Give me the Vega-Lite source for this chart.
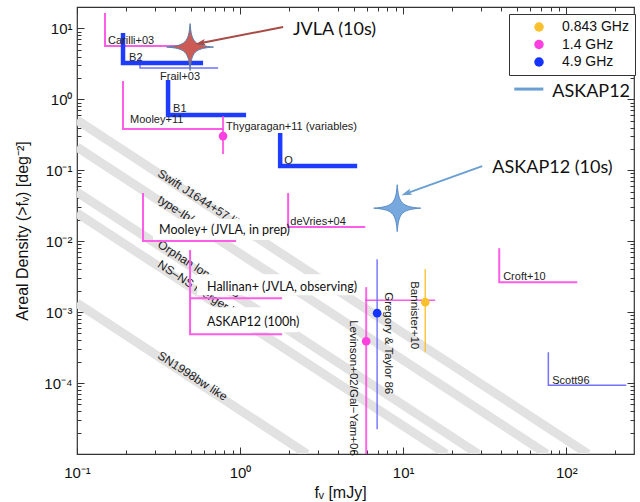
{
  "$schema": "https://vega.github.io/schema/vega-lite/v6.json",
  "width": 557,
  "height": 447,
  "autosize": {"type": "none"},
  "padding": {"left": 77, "top": 7, "right": 6, "bottom": 48},
  "background": "white",
  "config": {
    "view": {"stroke": "#333333", "strokeWidth": 1.2},
    "font": "Liberation Sans",
    "legend": {"orient": "none", "legendX": 432, "legendY": 7, "title": null, "strokeColor": "#333333", "fillColor": "white", "padding": 6,
      "labelFont": "Liberation Sans", "labelFontSize": 14, "labelColor": "#111111", "symbolType": "circle", "symbolSize": 90, "symbolOffset": 17, "labelOffset": 16, "rowPadding": 3.5}
  },
  "datasets": {
    "bands": [
      {"b": 1, "x": 0.1, "y": 0.51}, {"b": 1, "x": 136, "y": 0.00001},
      {"b": 2, "x": 0.1, "y": 0.212}, {"b": 2, "x": 76, "y": 0.00001},
      {"b": 3, "x": 0.1, "y": 0.0492}, {"b": 3, "x": 28.8, "y": 0.00001},
      {"b": 4, "x": 0.1, "y": 0.0249}, {"b": 4, "x": 18.4, "y": 0.00001},
      {"b": 5, "x": 0.1, "y": 0.00134}, {"b": 5, "x": 2.57, "y": 0.00001}
    ],
    "bandlabels": [
      {"t": "Swift J1644+57 like", "x": 0.3184, "y": 0.0942},
      {"t": "type-Ib/c like", "x": 0.3184, "y": 0.0405},
      {"t": "Orphan long GRB", "x": 0.3184, "y": 0.00938},
      {"t": "NS–NS merger like", "x": 0.3184, "y": 0.0049},
      {"t": "SN1998bw like", "x": 0.3184, "y": 0.000255}
    ],
    "boxes": [
      {"x": 0.2923, "x2": 2.085, "y": 0.01035, "y2": 0.02047},
      {"x": 0.5445, "x2": 5.3, "y": 0.001734, "y2": 0.00343},
      {"x": 0.5445, "x2": 2.27, "y": 0.000521, "y2": 0.001175}
    ],
    "pinkL": [
      {"n": "Carilli+03", "i": 0, "x": 0.1485, "y": 16.4}, {"n": "Carilli+03", "i": 1, "x": 0.1485, "y": 5.64}, {"n": "Carilli+03", "i": 2, "x": 0.447, "y": 5.64},
      {"n": "Mooley+11", "i": 0, "x": 0.1915, "y": 1.81}, {"n": "Mooley+11", "i": 1, "x": 0.1915, "y": 0.38}, {"n": "Mooley+11", "i": 2, "x": 0.786, "y": 0.38},
      {"n": "MooleyJVLA", "i": 0, "x": 0.254, "y": 0.0476}, {"n": "MooleyJVLA", "i": 1, "x": 0.254, "y": 0.01002}, {"n": "MooleyJVLA", "i": 2, "x": 0.945, "y": 0.01002},
      {"n": "deVries+04", "i": 0, "x": 1.97, "y": 0.0476}, {"n": "deVries+04", "i": 1, "x": 1.97, "y": 0.01578}, {"n": "deVries+04", "i": 2, "x": 5.85, "y": 0.01578},
      {"n": "Hallinan", "i": 0, "x": 0.4935, "y": 0.00748}, {"n": "Hallinan", "i": 1, "x": 0.4935, "y": 0.001573}, {"n": "Hallinan", "i": 2, "x": 1.81, "y": 0.001573},
      {"n": "ASKAP100h", "i": 0, "x": 0.4935, "y": 0.001573}, {"n": "ASKAP100h", "i": 1, "x": 0.4935, "y": 0.000489}, {"n": "ASKAP100h", "i": 2, "x": 1.81, "y": 0.000489},
      {"n": "Croft+10", "i": 0, "x": 38.8, "y": 0.00798}, {"n": "Croft+10", "i": 1, "x": 38.8, "y": 0.00264}, {"n": "Croft+10", "i": 2, "x": 116.8, "y": 0.00264}
    ],
    "blueThick": [
      {"n": "B2", "i": 0, "x": 0.1915, "y": 8.6}, {"n": "B2", "i": 1, "x": 0.1915, "y": 3.24}, {"n": "B2", "i": 2, "x": 0.593, "y": 3.24},
      {"n": "B1", "i": 0, "x": 0.3617, "y": 1.87}, {"n": "B1", "i": 1, "x": 0.3617, "y": 0.6}, {"n": "B1", "i": 2, "x": 1.088, "y": 0.6},
      {"n": "O", "i": 0, "x": 1.76, "y": 0.334}, {"n": "O", "i": 1, "x": 1.76, "y": 0.1144}, {"n": "O", "i": 2, "x": 5.22, "y": 0.1144}
    ],
    "blueThin": [
      {"n": "Frail+03", "i": 0, "x": 0.2435, "y": 3.9}, {"n": "Frail+03", "i": 1, "x": 0.2435, "y": 2.76}, {"n": "Frail+03", "i": 2, "x": 0.733, "y": 2.76},
      {"n": "Scott96", "i": 0, "x": 77.6, "y": 0.000272}, {"n": "Scott96", "i": 1, "x": 77.6, "y": 0.0000933}, {"n": "Scott96", "i": 2, "x": 233, "y": 0.0000933}
    ],
    "hbar": [{"x": 5.85, "x2": 15.7, "y": 0.001474}],
    "errbars": [
      {"n": "Thygaragan+11", "band": "1.4 GHz", "x": 0.786, "y": 0.169, "y2": 0.581},
      {"n": "Levinson", "band": "1.4 GHz", "x": 5.93, "y": 0.00001, "y2": 0.00225},
      {"n": "Gregory", "band": "4.9 GHz", "x": 6.92, "y": 0.0000223, "y2": 0.00558},
      {"n": "Bannister", "band": "0.843 GHz", "x": 13.65, "y": 0.000272, "y2": 0.00403}
    ],
    "points": [
      {"n": "Thygaragan+11", "f": "1.4 GHz", "x": 0.786, "y": 0.303},
      {"n": "Levinson", "f": "1.4 GHz", "x": 5.93, "y": 0.000389},
      {"n": "Gregory", "f": "4.9 GHz", "x": 6.92, "y": 0.000966},
      {"n": "Bannister", "f": "0.843 GHz", "x": 13.65, "y": 0.00138}
    ],
    "labels": [
      {"t": "Carilli+03", "x": 0.155, "y": 6.63},
      {"t": "B2", "x": 0.2085, "y": 3.82},
      {"t": "Frail+03", "x": 0.323, "y": 2.06},
      {"t": "B1", "x": 0.388, "y": 0.74},
      {"t": "Mooley+11", "x": 0.2113, "y": 0.51},
      {"t": "Thygaragan+11 (variables)", "x": 0.82, "y": 0.406},
      {"t": "O", "x": 1.862, "y": 0.1346},
      {"t": "deVries+04", "x": 2.03, "y": 0.01857},
      {"t": "Croft+10", "x": 41.0, "y": 0.00311},
      {"t": "Scott96", "x": 82.0, "y": 0.0001062}
    ],
    "vlabels": [
      {"t": "Levinson+02/Gal−Yam+06", "x": 4.93, "y": 0.000769},
      {"t": "Gregory & Taylor 86", "x": 8.09, "y": 0.00191},
      {"t": "Bannister+10", "x": 11.68, "y": 0.00273}
    ],
    "boxlabels": [
      {"t": "Mooley+ (JVLA, in prep)", "x": 0.3184, "y": 0.01432},
      {"t": "Hallinan+ (JVLA, observing)", "x": 0.627, "y": 0.00225},
      {"t": "ASKAP12 (100h)", "x": 0.627, "y": 0.000721}
    ],
    "stars": [
      {"n": "JVLA", "x": 0.4935, "y": 5.45},
      {"n": "ASKAP12", "x": 9.19, "y": 0.0292}
    ],
    "arrows": [
      {"n": "JVLA", "x": 1.836, "y": 10.44, "x2": 0.577, "y2": 6.21},
      {"n": "ASKAP12", "x": 30.5, "y": 0.1144, "x2": 10.58, "y2": 0.0476}
    ],
    "heads": [
      {"n": "JVLA", "x": 0.577, "y": 6.21},
      {"n": "ASKAP12", "x": 10.58, "y": 0.0476}
    ],
    "annot": [
      {"t": "JVLA (10s)", "x": 2.11, "y": 9.48},
      {"t": "ASKAP12 (10s)", "x": 35.2, "y": 0.1072},
      {"t": "ASKAP12", "x": 82.0, "y": 1.265}
    ],
    "swatch": [{"x": 48.0, "x2": 72.3, "y": 1.394}]
  },
  "encoding": {
    "x": {"field": "x", "type": "quantitative", "scale": {"type": "log", "domain": [0.1, 260], "nice": false}, "axis": null},
    "y": {"field": "y", "type": "quantitative", "scale": {"type": "log", "domain": [0.00001, 20], "nice": false}, "axis": null}
  },
  "resolve": {"axis": {"x": "independent", "y": "independent"}},
  "layer": [
    {
      "data": {"name": "bands"},
      "mark": {"type": "line", "stroke": "#e2e2e2", "strokeWidth": 9, "strokeCap": "butt", "clip": true},
      "encoding": {
        "x": {"field": "x", "type": "quantitative", "scale": {"type": "log", "domain": [0.1, 260], "nice": false},
          "axis": {"orient": "bottom", "values": [0.1,0.2,0.3,0.4,0.5,0.6,0.7,0.8,0.9,1,2,3,4,5,6,7,8,9,10,20,30,40,50,60,70,80,90,100,200],
            "tickSize": {"condition": {"test": "indexof([0.1,1,10,100], datum.value) >= 0", "value": -7}, "value": -4},
            "tickColor": "#333333", "domain": false, "grid": false,
            "labelExpr": "datum.value == 0.1 ? '10⁻¹' : datum.value == 1 ? '10⁰' : datum.value == 10 ? '10¹' : datum.value == 100 ? '10²' : ''",
            "labelFont": "Liberation Sans", "labelFontSize": 15, "labelColor": "#111111", "labelPadding": 18, "labelFlush": false, "labelOverlap": false,
            "title": "fᵥ [mJy]", "titleFont": "Liberation Sans", "titleFontSize": 16, "titleFontWeight": "normal", "titleColor": "#111111", "titlePadding": 1, "titleX": 263}},
        "y": {"field": "y", "type": "quantitative", "scale": {"type": "log", "domain": [0.00001, 20], "nice": false},
          "axis": {"orient": "left", "values": [0.00002,0.00003,0.00004,0.00005,0.00006,0.00007,0.00008,0.00009,0.0001,0.0002,0.0003,0.0004,0.0005,0.0006,0.0007,0.0008,0.0009,0.001,0.002,0.003,0.004,0.005,0.006,0.007,0.008,0.009,0.01,0.02,0.03,0.04,0.05,0.06,0.07,0.08,0.09,0.1,0.2,0.3,0.4,0.5,0.6,0.7,0.8,0.9,1,2,3,4,5,6,7,8,9,10,20],
            "tickSize": {"condition": {"test": "indexof([0.0001,0.001,0.01,0.1,1,10], datum.value) >= 0", "value": -7}, "value": -4},
            "tickColor": "#333333", "domain": false, "grid": false,
            "labelExpr": "datum.value == 0.0001 ? '10⁻⁴' : datum.value == 0.001 ? '10⁻³' : datum.value == 0.01 ? '10⁻²' : datum.value == 0.1 ? '10⁻¹' : datum.value == 1 ? '10⁰' : datum.value == 10 ? '10¹' : ''",
            "labelFont": "Liberation Sans", "labelFontSize": 15, "labelColor": "#111111", "labelPadding": 12, "labelFlush": false, "labelOverlap": false,
            "title": "Areal Density (>fᵥ) [deg⁻²]", "titleFont": "Liberation Sans", "titleFontSize": 16, "titleFontWeight": "normal", "titleColor": "#111111", "titlePadding": 13}},
        "detail": {"field": "b"}
      }
    },
    {
      "data": {"name": "bandlabels"},
      "mark": {"type": "text", "angle": 33, "align": "left", "baseline": "middle", "fontSize": 12, "font": "Liberation Sans", "fill": "#222222"},
      "encoding": {"text": {"field": "t"}}
    },
    {
      "data": {"name": "boxes"},
      "mark": {"type": "rect", "fill": "white"},
      "encoding": {
        "x": {"field": "x", "type": "quantitative", "scale": {"type": "log", "domain": [0.1, 260], "nice": false},
          "axis": {"orient": "top", "values": [0.1,0.2,0.3,0.4,0.5,0.6,0.7,0.8,0.9,1,2,3,4,5,6,7,8,9,10,20,30,40,50,60,70,80,90,100,200],
            "tickSize": {"condition": {"test": "indexof([0.1,1,10,100], datum.value) >= 0", "value": -7}, "value": -4},
            "tickColor": "#333333", "domain": false, "grid": false, "labels": false, "title": null}},
        "y": {"field": "y", "type": "quantitative", "scale": {"type": "log", "domain": [0.00001, 20], "nice": false},
          "axis": {"orient": "right", "values": [0.00002,0.00003,0.00004,0.00005,0.00006,0.00007,0.00008,0.00009,0.0001,0.0002,0.0003,0.0004,0.0005,0.0006,0.0007,0.0008,0.0009,0.001,0.002,0.003,0.004,0.005,0.006,0.007,0.008,0.009,0.01,0.02,0.03,0.04,0.05,0.06,0.07,0.08,0.09,0.1,0.2,0.3,0.4,0.5,0.6,0.7,0.8,0.9,1,2,3,4,5,6,7,8,9,10,20],
            "tickSize": {"condition": {"test": "indexof([0.0001,0.001,0.01,0.1,1,10], datum.value) >= 0", "value": -7}, "value": -4},
            "tickColor": "#333333", "domain": false, "grid": false, "labels": false, "title": null}},
        "x2": {"field": "x2"},
        "y2": {"field": "y2"}
      }
    },
    {
      "data": {"name": "pinkL"},
      "mark": {"type": "line", "stroke": "#ff5ce8", "strokeWidth": 2},
      "encoding": {"detail": {"field": "n"}, "order": {"field": "i"}}
    },
    {
      "data": {"name": "blueThin"},
      "mark": {"type": "line", "stroke": "#7272ff", "strokeWidth": 1.5},
      "encoding": {"detail": {"field": "n"}, "order": {"field": "i"}}
    },
    {
      "data": {"name": "blueThick"},
      "mark": {"type": "line", "stroke": "#1e3cff", "strokeWidth": 4.5},
      "encoding": {"detail": {"field": "n"}, "order": {"field": "i"}}
    },
    {
      "data": {"name": "hbar"},
      "mark": {"type": "rule", "stroke": "#ff5ce8", "strokeWidth": 1.5},
      "encoding": {"x2": {"field": "x2"}}
    },
    {
      "data": {"name": "errbars"},
      "transform": [{"filter": "datum.band == '1.4 GHz'"}],
      "mark": {"type": "rule", "strokeWidth": 2, "stroke": "#ff40e0", "opacity": 0.8},
      "encoding": {"y2": {"field": "y2"}}
    },
    {
      "data": {"name": "errbars"},
      "transform": [{"filter": "datum.band == '4.9 GHz'"}],
      "mark": {"type": "rule", "strokeWidth": 1.5, "stroke": "#6b6bff", "opacity": 0.9},
      "encoding": {"y2": {"field": "y2"}}
    },
    {
      "data": {"name": "errbars"},
      "transform": [{"filter": "datum.band == '0.843 GHz'"}],
      "mark": {"type": "rule", "strokeWidth": 1.5, "stroke": "#fbc02d", "opacity": 0.9},
      "encoding": {"y2": {"field": "y2"}}
    },
    {
      "data": {"name": "points"},
      "mark": {"type": "point", "filled": true, "shape": "circle", "size": 75, "opacity": 1},
      "encoding": {
        "color": {"field": "f", "type": "nominal", "scale": {"domain": ["0.843 GHz", "1.4 GHz", "4.9 GHz"], "range": ["#fbc02d", "#ff40e0", "#1433ff"]}}
      }
    },
    {
      "data": {"name": "labels"},
      "mark": {"type": "text", "align": "left", "baseline": "middle", "fontSize": 11, "font": "Liberation Sans", "fill": "#222222"},
      "encoding": {"text": {"field": "t"}}
    },
    {
      "data": {"name": "vlabels"},
      "mark": {"type": "text", "angle": 90, "align": "left", "baseline": "middle", "fontSize": 11.5, "font": "Liberation Sans", "fill": "#222222"},
      "encoding": {"text": {"field": "t"}}
    },
    {
      "data": {"name": "boxlabels"},
      "mark": {"type": "text", "align": "left", "baseline": "middle", "fontSize": 12.5, "font": "Lato", "fill": "#111111"},
      "encoding": {"text": {"field": "t"}}
    },
    {
      "data": {"name": "stars"},
      "transform": [{"filter": "datum.n == 'JVLA'"}],
      "mark": {"type": "point", "filled": true, "size": 2200, "opacity": 1, "fill": "#cc5a55", "stroke": "#5b7fae", "strokeWidth": 1,
        "shape": "M0,-1 C0.06,-0.2 0.2,-0.06 1,0 C0.2,0.06 0.06,0.2 0,1 C-0.06,0.2 -0.2,0.06 -1,0 C-0.2,-0.06 -0.06,-0.2 0,-1 Z"}
    },
    {
      "data": {"name": "stars"},
      "transform": [{"filter": "datum.n == 'ASKAP12'"}],
      "mark": {"type": "point", "filled": true, "size": 2200, "opacity": 1, "fill": "#78a9de", "stroke": "#5b8cc7", "strokeWidth": 1,
        "shape": "M0,-1 C0.06,-0.2 0.2,-0.06 1,0 C0.2,0.06 0.06,0.2 0,1 C-0.06,0.2 -0.2,0.06 -1,0 C-0.2,-0.06 -0.06,-0.2 0,-1 Z"}
    },
    {
      "data": {"name": "arrows"},
      "transform": [{"filter": "datum.n == 'JVLA'"}],
      "mark": {"type": "rule", "stroke": "#a84a45", "strokeWidth": 2},
      "encoding": {"x2": {"field": "x2"}, "y2": {"field": "y2"}}
    },
    {
      "data": {"name": "arrows"},
      "transform": [{"filter": "datum.n == 'ASKAP12'"}],
      "mark": {"type": "rule", "stroke": "#6a9fd4", "strokeWidth": 2},
      "encoding": {"x2": {"field": "x2"}, "y2": {"field": "y2"}}
    },
    {
      "data": {"name": "heads"},
      "transform": [{"filter": "datum.n == 'JVLA'"}],
      "mark": {"type": "point", "filled": true, "opacity": 1, "fill": "#a84a45", "size": 150, "angle": 259, "shape": "M0,-1 L0.55,0.7 L0,0.35 L-0.55,0.7 Z"}
    },
    {
      "data": {"name": "heads"},
      "transform": [{"filter": "datum.n == 'ASKAP12'"}],
      "mark": {"type": "point", "filled": true, "opacity": 1, "fill": "#6a9fd4", "size": 150, "angle": 250, "shape": "M0,-1 L0.55,0.7 L0,0.35 L-0.55,0.7 Z"}
    },
    {
      "data": {"name": "swatch"},
      "mark": {"type": "rule", "stroke": "#6a9fd4", "strokeWidth": 3},
      "encoding": {"x2": {"field": "x2"}}
    },
    {
      "data": {"name": "annot"},
      "mark": {"type": "text", "align": "left", "baseline": "middle", "fontSize": 18, "font": "Lato", "fill": "#111111"},
      "encoding": {"text": {"field": "t"}}
    }
  ]
}
